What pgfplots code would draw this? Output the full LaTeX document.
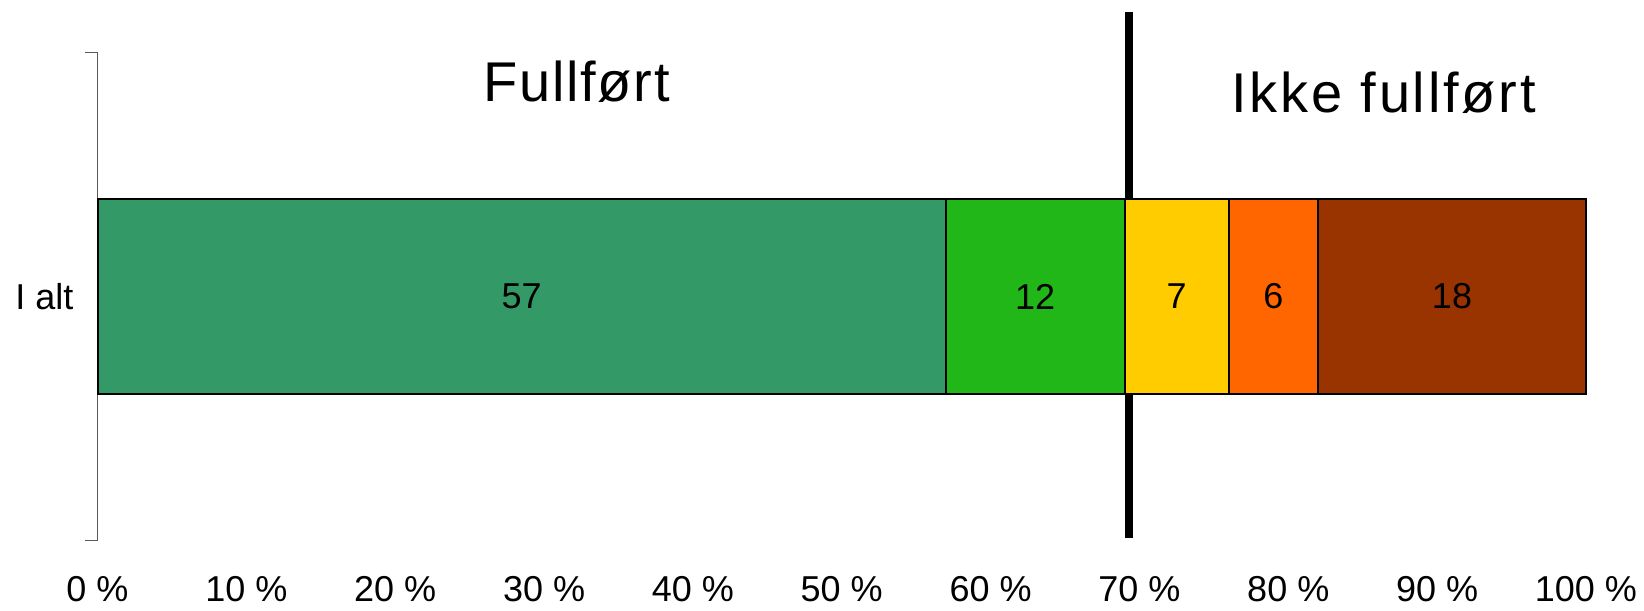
\documentclass[border=0pt]{standalone}
\usepackage{fontspec}
\setmainfont{Liberation Sans}
\usepackage{pgfplots}
\pgfplotsset{compat=1.18}
\definecolor{segA}{RGB}{51,153,102}
\definecolor{segB}{RGB}{33,183,24}
\definecolor{segC}{RGB}{255,204,0}
\definecolor{segD}{RGB}{255,102,0}
\definecolor{segE}{RGB}{153,51,0}
\definecolor{AxisGray}{RGB}{90,90,90}
\pgfplotsset{
    common/.style={
        scale only axis,
        width=744pt, height=244pt,
        xmin=0, xmax=100,
        ymin=-1, ymax=1,
        clip=false,
    },
}
\begin{document}
\begin{tikzpicture}
\begin{axis}[
    common,
    xbar stacked,
    bar width=0.8,
    axis x line*=bottom,
    axis y line*=left,
    x axis line style={draw=none},
    y axis line style={draw=AxisGray, line width=0.6pt},
    xtick={0,10,...,100},
    xticklabels={0 \%,10 \%,20 \%,30 \%,40 \%,50 \%,60 \%,70 \%,80 \%,90 \%,100 \%},
    xtick style={draw=none},
    xticklabel style={yshift=-8.5pt},
    ytick={-1,1},
    yticklabels={},
    ytick style={draw=AxisGray, line width=0.6pt},
    tick align=outside,
    major tick length=6pt,
    extra y ticks={0},
    extra y tick labels={I alt},
    extra y tick style={major tick length=0pt, yticklabel style={xshift=-8.5pt}},
    tick label style={font=\fontsize{18}{21}\selectfont},
]
\addplot[fill=segA, draw=black, line width=1pt] coordinates {(57,0)};
\addplot[fill=segB, draw=black, line width=1pt] coordinates {(12,0)};
\addplot[fill=segC, draw=black, line width=1pt] coordinates {(7,0)};
\addplot[fill=segD, draw=black, line width=1pt] coordinates {(6,0)};
\addplot[fill=segE, draw=black, line width=1pt] coordinates {(18,0)};
\draw[line width=3.8pt] (axis cs:69.3,1.164) -- (axis cs:69.3,-0.988);
\node[font=\fontsize{28}{32}\selectfont\addfontfeature{LetterSpace=3}] at (axis cs:32.2,0.88) {Fullført};
\node[font=\fontsize{28}{32}\selectfont\addfontfeature{LetterSpace=5}] at (axis cs:86.4,0.836) {Ikke fullført};
\path (rel axis cs:-0.0655,-0.1436) rectangle (rel axis cs:1.039,1.1075);
\end{axis}
% segment values, placed at the middle of each segment
\begin{axis}[common, hide axis]
\addplot[draw=none, mark=none, nodes near coords, point meta=explicit symbolic,
    every node near coord/.append style={anchor=center, font=\fontsize{18}{21}\selectfont}]
    coordinates {(28.5,0) [57] (63,0) [12] (72.5,0) [7] (79,0) [6] (91,0) [18]};
\end{axis}
\end{tikzpicture}
\end{document}
